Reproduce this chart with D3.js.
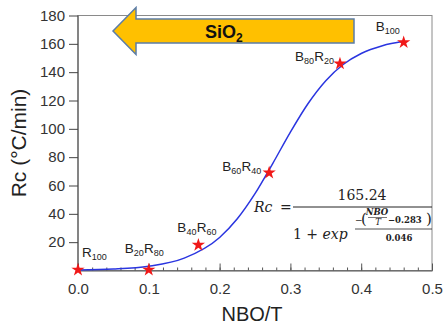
<!DOCTYPE html>
<html>
<head>
<meta charset="utf-8">
<script src="https://cdn.jsdelivr.net/npm/d3@7"></script>
<style>
  body { margin: 0; background: #fff; }
  svg { display: block; font-family: "Liberation Sans", Arial, sans-serif; }
</style>
</head>
<body>
<div id="chart"></div>
<script>
// measured points
const nboT = [0.0, 0.1, 0.17, 0.27, 0.37, 0.46];
const rc = [0.5, 0.5, 18, 69, 146, 161];
const sampleNames = [
    [['R', '100']],
    [['B', '20'], ['R', '80']],
    [['B', '40'], ['R', '60']],
    [['B', '60'], ['R', '40']],
    [['B', '80'], ['R', '20']],
    [['B', '100']],
];
const labelOffsets = [[4, -13], [-24, -17], [-21, -13], [-47, -2], [-45, -3], [-28, -11]];

// fitted curve
const fitX = [0, 0.05, 0.1, 0.15, 0.2, 0.225, 0.25, 0.275, 0.3, 0.325, 0.35, 0.375, 0.4, 0.43, 0.46];
const fitY = [0.35, 1.0, 3.0, 8.7, 23.3, 36.5, 54.2, 75.5, 97.7, 117.9, 134.0, 145.6, 153.2, 158.7, 161.8];

const xTicks = [0, 0.1, 0.2, 0.3, 0.4, 0.5];
const xMinor = d3.range(0, 0.5001, 0.02);
const yTicks = [20, 40, 60, 80, 100, 120, 140, 160, 180];

const width = 443, height = 326;
const margin = {top: 15.5, right: 11, bottom: 55.5, left: 78};

const x = d3.scaleLinear().domain([0, 0.5]).range([margin.left, width - margin.right]);
const y = d3.scaleLinear().domain([0, 180]).range([height - margin.bottom, margin.top]);

const svg = d3.select('#chart').append('svg')
    .attr('width', width).attr('height', height);

// frame
svg.append('rect')
    .attr('x', x(0)).attr('y', y(180))
    .attr('width', x(0.5) - x(0)).attr('height', y(0) - y(180))
    .attr('fill', 'none').attr('stroke', '#8a8a8a').attr('stroke-width', 1);

// minor x ticks
svg.append('g')
    .attr('transform', `translate(0,${y(0)})`)
    .call(d3.axisBottom(x).tickValues(xMinor).tickSizeInner(-3).tickSizeOuter(0).tickFormat(''))
    .call(g => g.selectAll('line').attr('stroke', '#555'))
    .call(g => g.select('.domain').remove());

svg.append('g')
    .attr('transform', `translate(0,${y(0)})`)
    .call(d3.axisBottom(x).tickValues(xTicks).tickSizeInner(-7).tickSizeOuter(0)
        .tickPadding(13).tickFormat(d3.format('.1f')))
    .call(g => g.select('.domain').attr('stroke', '#555'))
    .call(g => g.selectAll('line').attr('stroke', '#555'))
    .call(g => g.selectAll('text').attr('font-size', 15).attr('fill', '#333')
        .attr('font-family', '"Liberation Sans", Arial, sans-serif'));

svg.append('g')
    .attr('transform', `translate(${x(0)},0)`)
    .call(d3.axisLeft(y).tickValues(yTicks).tickSizeInner(9).tickSizeOuter(0).tickPadding(4))
    .call(g => g.select('.domain').attr('stroke', '#444').attr('d', `M0,${y(0)}V${y(180)}`))
    .call(g => g.selectAll('line').attr('stroke', '#444'))
    .call(g => g.selectAll('text').attr('font-size', 15).attr('fill', '#333')
        .attr('font-family', '"Liberation Sans", Arial, sans-serif'));

// axis titles
svg.append('text')
    .attr('x', 252).attr('y', 321)
    .attr('text-anchor', 'middle').attr('font-size', 20).attr('fill', '#222')
    .text('NBO/T');

svg.append('text')
    .attr('transform', `translate(26,${(y(0) + y(180)) / 2}) rotate(-90)`)
    .attr('text-anchor', 'middle').attr('font-size', 21).attr('fill', '#222')
    .text('Rc (°C/min)');

// fit curve
const line = d3.line().x((d, i) => x(d)).y((d, i) => y(fitY[i])).curve(d3.curveMonotoneX);
svg.append('path')
    .attr('d', line(fitX))
    .attr('fill', 'none').attr('stroke', '#2a35e0').attr('stroke-width', 1.5);

// stars
svg.append('g').selectAll('path')
    .data(nboT)
    .join('path')
    .attr('transform', (d, i) => `translate(${x(d)},${y(rc[i])})`)
    .attr('d', d3.symbol(d3.symbolStar, 55))
    .attr('fill', '#f01818');

// sample labels with subscripts
nboT.forEach((d, i) => {
    const t = svg.append('text')
        .attr('x', x(d) + labelOffsets[i][0])
        .attr('y', y(rc[i]) + labelOffsets[i][1])
        .attr('font-size', 13.5).attr('fill', '#222');
    sampleNames[i].forEach(([base, sub]) => {
        t.append('tspan').attr('dy', 0).text(base);
        t.append('tspan').attr('font-size', 9).attr('dy', 3).text(sub);
        t.append('tspan').attr('font-size', 1).attr('dy', -3).text(' ');
    });
});

// SiO2 arrow
const ay = 31;
const arrow = [
    [113, ay], [136, ay - 23.5], [136, ay - 12], [354, ay - 12],
    [354, ay + 12], [136, ay + 12], [136, ay + 23.5]
];
svg.append('path')
    .attr('d', d3.line()(arrow) + 'Z')
    .attr('fill', '#ffc000').attr('stroke', '#5b7ca6').attr('stroke-width', 1.5)
    .attr('stroke-linejoin', 'miter');
const sio = svg.append('text')
    .attr('x', 205).attr('y', 38)
    .attr('font-size', 18).attr('font-weight', 'bold').attr('fill', '#111');
sio.append('tspan').text('SiO');
sio.append('tspan').attr('font-size', 12).attr('dy', 4).text('2');

// equation
const serif = '"DejaVu Serif", "Liberation Serif", serif';
const eq = svg.append('g').attr('font-family', serif).attr('fill', '#222');
eq.append('text').attr('x', 254).attr('y', 212).attr('font-size', 14)
    .attr('font-style', 'italic').text('Rc');
eq.append('text').attr('x', 280).attr('y', 212).attr('font-size', 14).text('=');
eq.append('line').attr('x1', 293).attr('x2', 432).attr('y1', 207).attr('y2', 207)
    .attr('stroke', '#222').attr('stroke-width', 1);
eq.append('text').attr('x', 362).attr('y', 200).attr('font-size', 14)
    .attr('text-anchor', 'middle').text('165.24');
const den = eq.append('text').attr('x', 293).attr('y', 239).attr('font-size', 14);
den.append('tspan').text('1 + ');
den.append('tspan').attr('font-style', 'italic').text('exp');
// exponent
eq.append('line').attr('x1', 355).attr('x2', 432).attr('y1', 229).attr('y2', 229)
    .attr('stroke', '#222').attr('stroke-width', 0.8);
eq.append('text').attr('x', 355).attr('y', 223).attr('font-size', 9).text('−');
eq.append('text').attr('x', 361).attr('y', 223.5).attr('font-size', 15).attr('font-weight', 300).text('(');
eq.append('text').attr('x', 377).attr('y', 215).attr('font-size', 8.5)
    .attr('font-style', 'italic').attr('font-weight', 'bold').attr('text-anchor', 'middle').text('NBO');
eq.append('line').attr('x1', 368).attr('x2', 387).attr('y1', 217.5).attr('y2', 217.5)
    .attr('stroke', '#222').attr('stroke-width', 0.6);
eq.append('text').attr('x', 378).attr('y', 225).attr('font-size', 8.5)
    .attr('font-style', 'italic').attr('text-anchor', 'middle').text('T');
eq.append('text').attr('x', 388).attr('y', 223).attr('font-size', 8.5).attr('font-weight', 'bold').text('−0.283');
eq.append('text').attr('x', 426).attr('y', 223.5).attr('font-size', 15).attr('font-weight', 300).text(')');
eq.append('text').attr('x', 399).attr('y', 241).attr('font-size', 8.5).attr('font-weight', 'bold')
    .attr('text-anchor', 'middle').text('0.046');
</script>
</body>
</html>
